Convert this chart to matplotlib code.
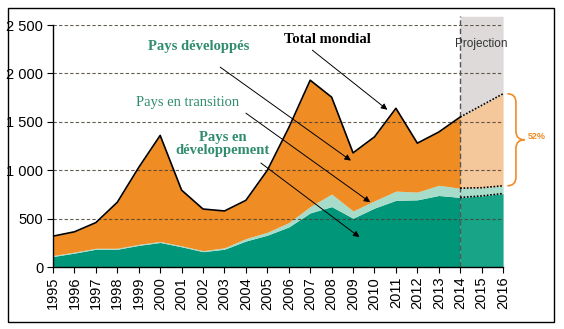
import numpy as np
import matplotlib
matplotlib.use("Agg")
import matplotlib.pyplot as plt
from matplotlib.patches import Rectangle, PathPatch
from matplotlib.path import Path

ORANGE = "#f08c24"
ORANGE_PROJ = "#f5c89c"
GREEN = "#00967a"
GREEN_PROJ = "#17a487"
MINT = "#a7dccb"
TEXT_GREEN = "#2f8c6c"
GREY_BAND = "#dedada"

years = np.arange(1995, 2017)
developing = [110, 145, 185, 185, 225, 255, 210, 160, 185, 270, 330, 415,
              560, 625, 505, 610, 690, 695, 740, 720, 735, 760]
transition = [10, 10, 10, 10, 10, 10, 10, 10, 15, 25, 30, 45,
              65, 130, 75, 75, 95, 80, 105, 95, 85, 80]
developed = [200, 210, 265, 475, 795, 1095, 575, 430, 380, 395, 640, 980,
             1305, 1000, 600, 660, 855, 505, 550, 735, 850, 950]
proj_start = 2014
share_label = "52%"
yticks = [0, 500, 1000, 1500, 2000, 2500]


def main():
    plt.rcParams["font.family"] = ["Liberation Sans", "DejaVu Sans"]

    fig = plt.figure(figsize=(5.64, 3.29), dpi=100)
    ax = fig.add_axes([0.094, 0.188, 0.798, 0.736])

    # outer frame
    fig.patches.append(Rectangle((0.014, 0.021), 0.969, 0.955, transform=fig.transFigure,
                                 fill=False, edgecolor="black", lw=1.0))

    lvl1 = np.array(developing)
    lvl2 = lvl1 + np.array(transition)
    lvl3 = lvl2 + np.array(developed)

    hist = years <= proj_start
    proj = years >= proj_start

    # projection band
    ax.fill_between(years[proj], lvl3[proj], 2590, color=GREY_BAND, lw=0, zorder=0, clip_on=False)

    ax.fill_between(years[hist], 0, lvl1[hist], color=GREEN, lw=0, zorder=1)
    ax.fill_between(years[hist], lvl1[hist], lvl2[hist], color=MINT, lw=0, zorder=1)
    ax.fill_between(years[hist], lvl2[hist], lvl3[hist], color=ORANGE, lw=0, zorder=1)

    ax.fill_between(years[proj], 0, lvl1[proj], color=GREEN_PROJ, lw=0, zorder=1)
    ax.fill_between(years[proj], lvl1[proj], lvl2[proj], color=MINT, lw=0, zorder=1)
    ax.fill_between(years[proj], lvl2[proj], lvl3[proj], color=ORANGE_PROJ, lw=0, zorder=1)

    # grid on top
    for y in yticks[1:]:
        ax.axhline(y, color="#4a4036", lw=0.8, ls=(0, (3, 2)), alpha=0.85, zorder=2)
    ax.plot([proj_start, proj_start], [0, 2590], color="#555555", lw=1.0,
            ls=(0, (4, 2)), zorder=3, clip_on=False)

    ax.plot(years[hist], lvl3[hist], color="black", lw=1.2, zorder=4)
    ax.plot(years[proj], lvl3[proj], color="black", lw=1.2, ls=(0, (1, 1)), zorder=4)
    ax.plot(years[proj], lvl2[proj], color="black", lw=1.2, ls=(0, (1, 1)), zorder=4)
    ax.plot(years[proj], lvl1[proj], color="black", lw=1.2, ls=(0, (1, 1)), zorder=4)

    ax.set_xlim(1995, 2016)
    ax.set_ylim(0, 2500)
    ax.set_xticks(years)
    ax.set_xticklabels([str(y) for y in years], rotation=90, fontsize=10.5)
    ax.set_yticks(yticks)
    ax.set_yticklabels([f"{v:,}".replace(",", " ") for v in yticks], fontsize=10.5)
    ax.tick_params(direction="out", length=4, width=0.8, pad=3)
    for s in ("top", "right"):
        ax.spines[s].set_visible(False)
    for s in ("left", "bottom"):
        ax.spines[s].set_linewidth(1.0)
        ax.spines[s].set_zorder(5)

    ax.text(2015, 2300, "Projection", ha="center", va="center", fontsize=8.5, color="#333333")

    # annotations
    serif = ["Liberation Serif", "DejaVu Serif"]
    arrow = dict(arrowstyle="-|>", color="black", lw=0.7, mutation_scale=9, shrinkA=0, shrinkB=0)
    ax.annotate("", xy=(2010.6, 1625), xytext=(2007.1, 2240), arrowprops=arrow, zorder=6)
    ax.text(2007.8, 2355, "Total mondial", family=serif, fontweight="bold",
            fontsize=10.5, ha="center", va="center")
    ax.annotate("", xy=(2008.9, 1100), xytext=(2002.8, 2065), arrowprops=arrow, zorder=6)
    ax.text(2001.8, 2275, "Pays développés", family=serif, fontweight="bold",
            fontsize=10.5, color=TEXT_GREEN, ha="center", va="center")
    ax.annotate("", xy=(2009.8, 670), xytext=(2004.0, 1590), arrowprops=arrow, zorder=6)
    ax.text(2001.3, 1700, "Pays en transition", family=serif,
            fontsize=10.5, color=TEXT_GREEN, ha="center", va="center")
    ax.annotate("", xy=(2009.3, 310), xytext=(2004.7, 1075), arrowprops=arrow, zorder=6)
    ax.text(2002.9, 1270, "Pays en\ndéveloppement", family=serif, fontweight="bold",
            fontsize=10.5, color=TEXT_GREEN, ha="center", va="center", linespacing=0.95)

    # brace for projected share
    top, bot = lvl3[-1], lvl2[-1]
    mid = (top + bot) / 2
    x0, w, r = 2016.2, 0.8, 90
    xm = x0 + w / 2
    verts = [(x0, top), (xm, top), (xm, top - r),
             (xm, mid + r),
             (xm, mid), (x0 + w, mid),
             (xm, mid), (xm, mid - r),
             (xm, bot + r),
             (xm, bot), (x0, bot)]
    codes = [Path.MOVETO, Path.CURVE3, Path.CURVE3,
             Path.LINETO,
             Path.CURVE3, Path.CURVE3,
             Path.CURVE3, Path.CURVE3,
             Path.LINETO,
             Path.CURVE3, Path.CURVE3]
    ax.add_patch(PathPatch(Path(verts, codes), fill=False, edgecolor=ORANGE,
                           lw=1.2, clip_on=False))
    ax.text(x0 + w + 0.15, mid + 30, share_label, color=ORANGE, fontsize=6.5,
            fontweight="bold", ha="left", va="center")

    fig.savefig("out.png", dpi=100)


if __name__ == "__main__":
    main()
